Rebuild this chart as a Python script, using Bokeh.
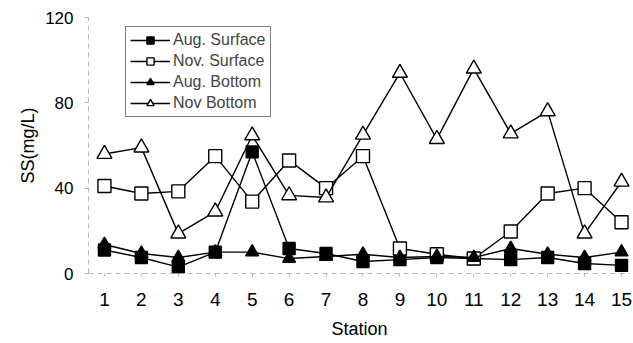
from bokeh.plotting import figure
from bokeh.models import FixedTicker, Legend, LegendItem
from bokeh.embed import file_html
from bokeh.resources import INLINE

stations = list(range(1, 16))
aug_surface = [11, 7.5, 3, 10, 57, 11.7, 9.4, 5.6, 6.5, 7.5, 7, 6.5, 7.5, 4.7, 3.8]
nov_surface = [41, 37.5, 38.5, 55, 33.7, 53, 40, 55, 11.7, 9, 7, 19.7, 37.5, 40, 24]
aug_bottom = [13.6, 9.4, 7.5, 10, 10, 7, 8, 9, 7.5, 8, 7.5, 11.7, 9, 7.5, 10]
nov_bottom = [56, 59, 18.7, 29, 64.7, 36.6, 35.6, 65, 94, 63, 96, 65.6, 76, 18.7, 43]
y_ticks = [0, 40, 80, 120]

FONT = "Liberation Sans"

p = figure(width=633, height=343, output_backend="svg", toolbar_location=None,
           x_range=(0.568, 15.243), y_range=(0, 120),
           min_border_left=88, min_border_right=3, min_border_top=17, min_border_bottom=70)
p.outline_line_color = None
p.grid.visible = False
p.background_fill_color = "white"

p.xaxis.ticker = FixedTicker(ticks=stations)
p.yaxis.ticker = FixedTicker(ticks=y_ticks)
for ax in (p.xaxis[0], p.yaxis[0]):
    ax.axis_line_color = "#888888"
    ax.axis_line_dash = "5 4"
    ax.axis_line_alpha = 0.6
    ax.major_tick_line_color = "#888888"
    ax.major_tick_line_alpha = 0.6
    ax.minor_tick_line_color = None
    ax.major_label_text_font = FONT
    ax.major_label_text_color = "black"
    ax.axis_label_text_font = FONT
    ax.axis_label_text_font_size = "18px"
    ax.axis_label_text_font_style = "normal"
    ax.axis_label_text_color = "black"
p.xaxis.major_label_text_font_size = "19px"
p.yaxis.major_label_text_font_size = "17px"
p.xaxis.major_tick_out = 3
p.xaxis.major_tick_in = 0
p.yaxis.major_tick_out = 4
p.yaxis.major_tick_in = 0
p.xaxis.major_label_standoff = 16
p.yaxis.major_label_standoff = 11
p.xaxis.axis_label = "Station"
p.yaxis.axis_label = "SS(mg/L)"
p.xaxis.axis_label_standoff = 10
p.yaxis.axis_label_standoff = 4

series = [
    ("Aug. Surface", aug_surface, "square", "black", 12),
    ("Nov. Surface", nov_surface, "square", "white", 13),
    ("Aug. Bottom", aug_bottom, "triangle", "black", 13),
    ("Nov Bottom", nov_bottom, "triangle", "white", 15),
]
items = []
for label, vals, marker, fill, size in series:
    l = p.line(stations, vals, line_color="black", line_width=1.4)
    s = p.scatter(stations, vals, marker=marker, size=size, fill_color=fill,
                  line_color="black", line_width=1.4)
    items.append(LegendItem(label=label, renderers=[l, s]))

legend = Legend(items=items, location=(37, 156))
legend.border_line_color = "black"
legend.border_line_width = 1
legend.background_fill_color = "white"
legend.label_text_font = FONT
legend.label_text_font_size = "16px"
legend.label_height = 18
legend.glyph_height = 18
legend.glyph_width = 40
legend.spacing = 3
legend.padding = 4
legend.margin = 0
legend.label_standoff = 3
p.add_layout(legend)

open("out.html", "w").write(file_html(p, INLINE))
